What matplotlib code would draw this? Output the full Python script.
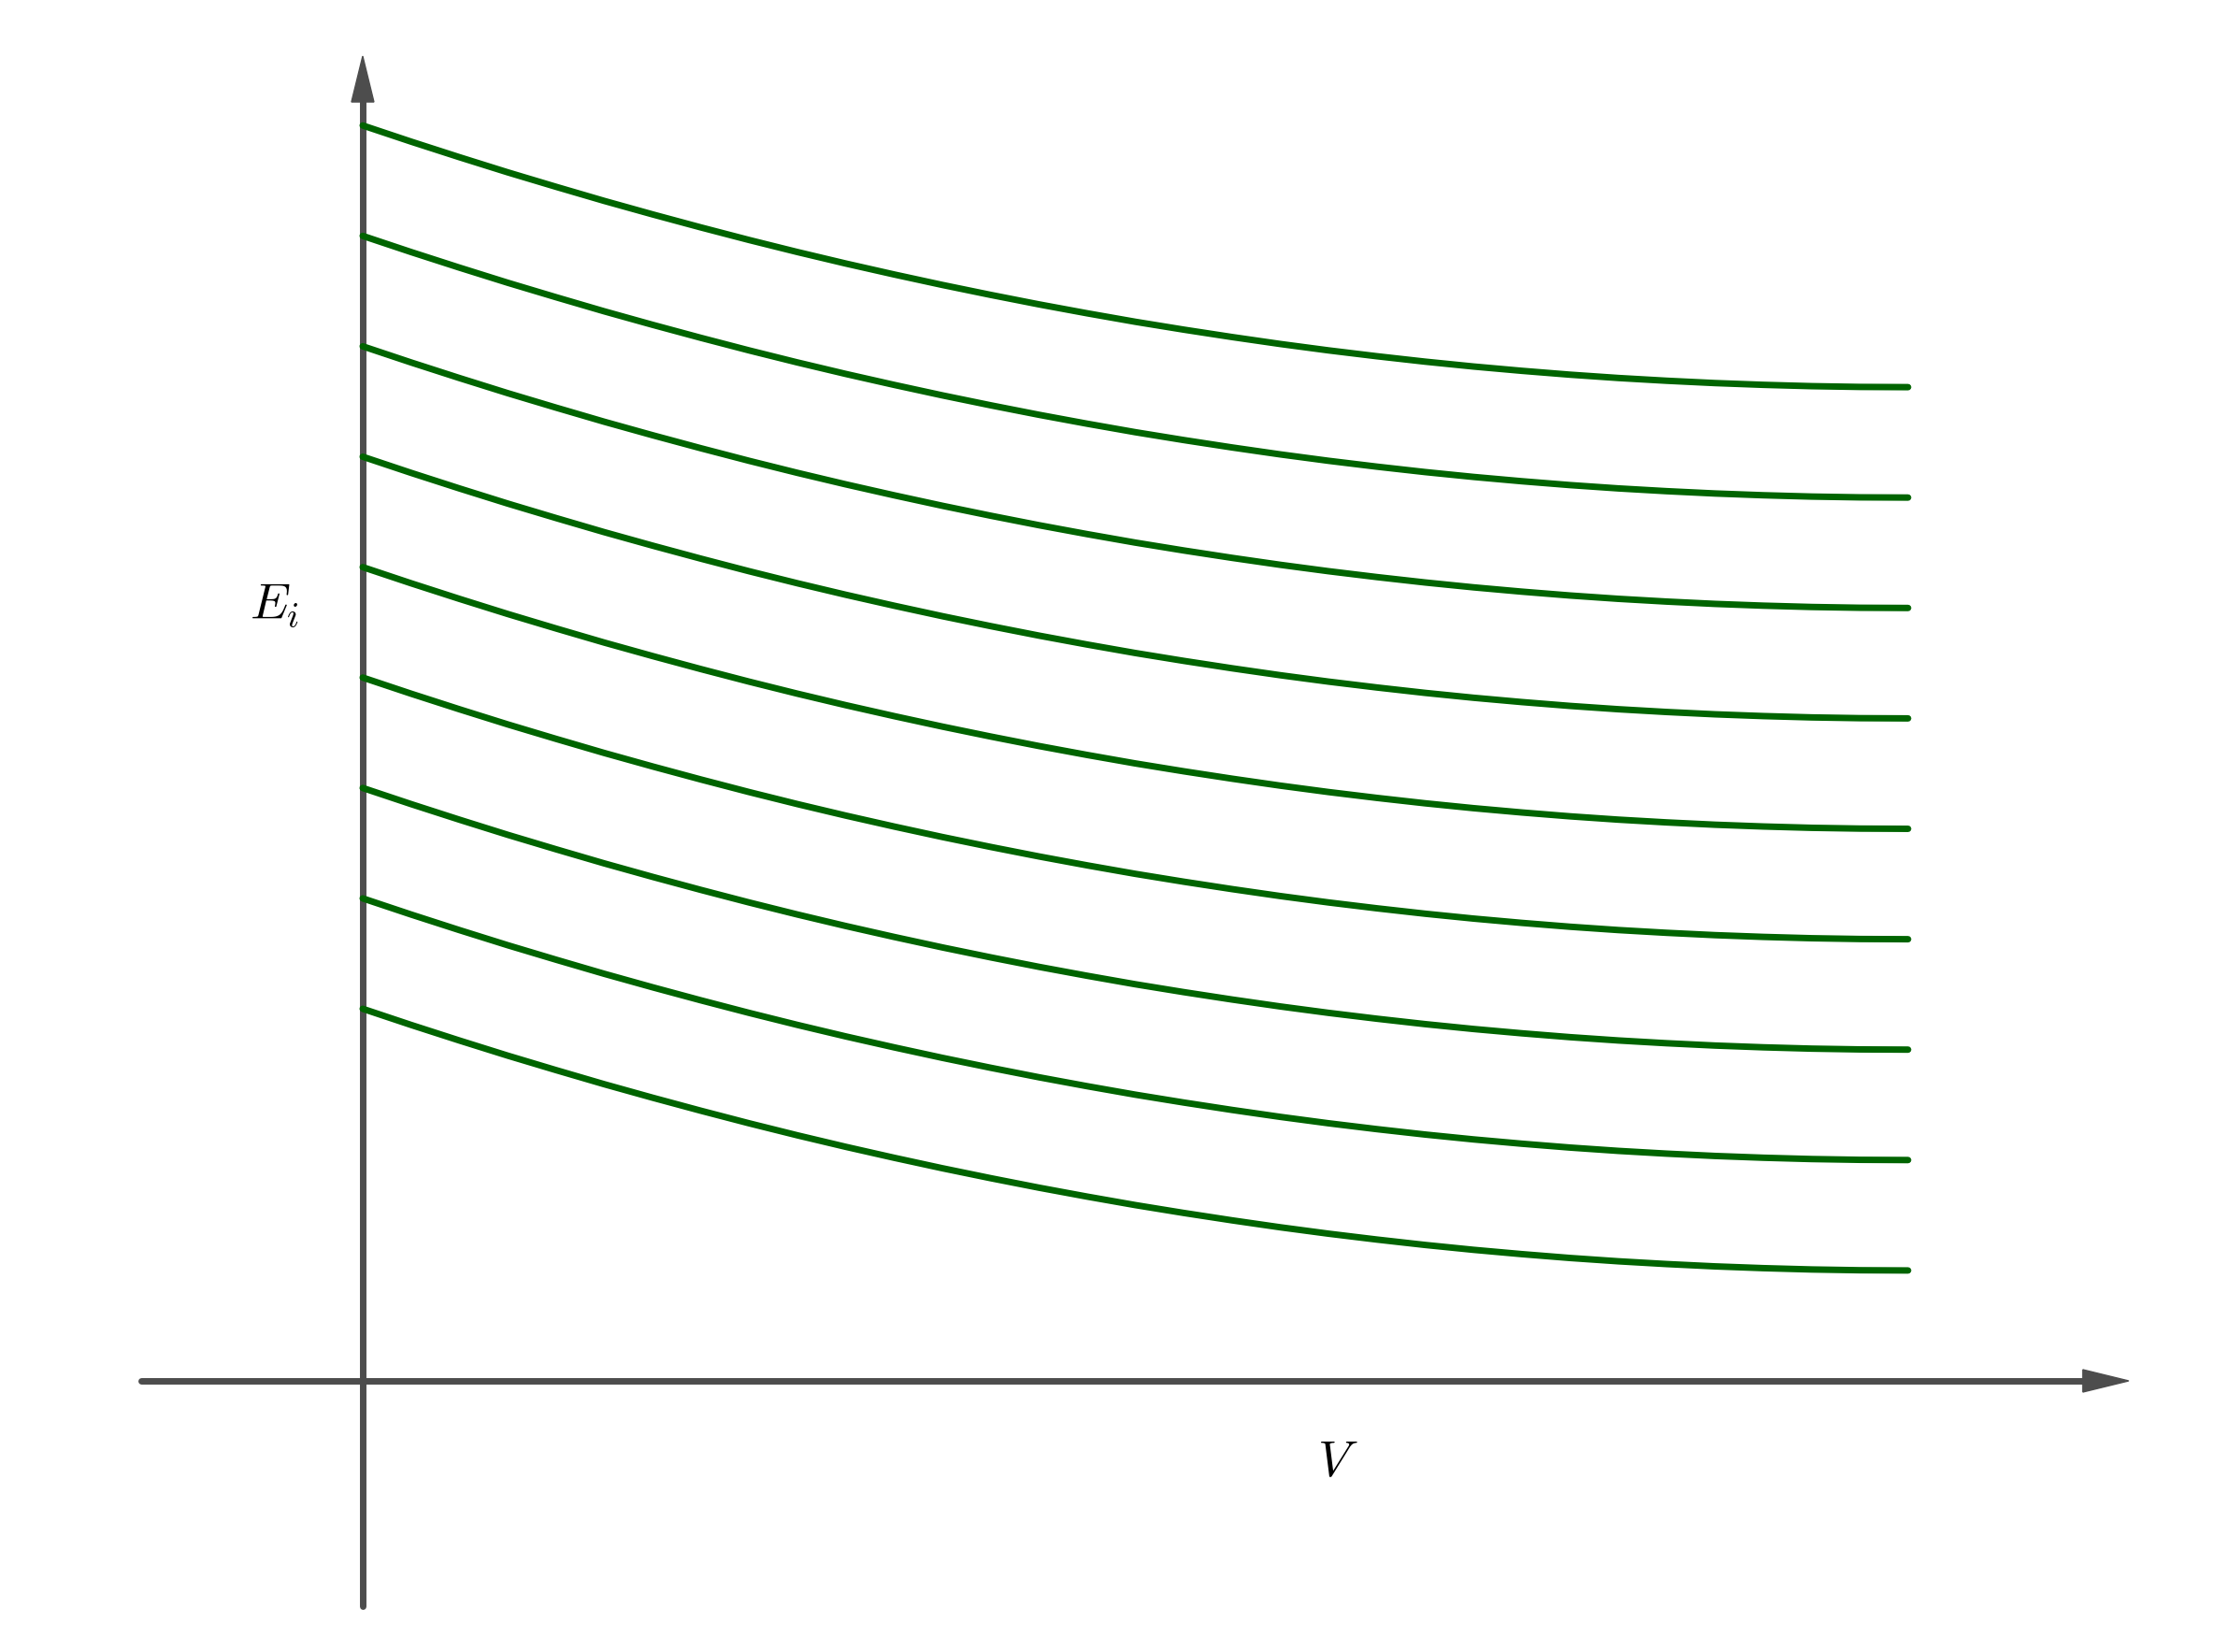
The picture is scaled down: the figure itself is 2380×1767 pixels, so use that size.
import matplotlib
matplotlib.use("Agg")
import matplotlib.pyplot as plt
from matplotlib.patches import Polygon

plt.rcParams['mathtext.fontset'] = 'cm'

# sample positions along V (curves run from V=0 to V=1)
v_samples = [i / 32 for i in range(33)]
# how far each level has dropped at those V positions
e_drop = [0.0, 0.146, 0.287, 0.424, 0.555, 0.683, 0.805, 0.923, 1.037,
          1.146, 1.250, 1.349, 1.444, 1.534, 1.620, 1.701, 1.778,
          1.849, 1.916, 1.979, 2.037, 2.090, 2.139, 2.183, 2.222,
          2.257, 2.287, 2.312, 2.333, 2.349, 2.361, 2.368, 2.37]
# energy level of each curve at V=0
e_start = [3.37, 4.37, 5.37, 6.37, 7.37, 8.37, 9.37, 10.37, 11.37]

axis_color = '#4d4d4d'
curve_color = '#006400'

fig = plt.figure(figsize=(23.8, 17.67), dpi=100)
ax = fig.add_axes([0, 0, 1, 1])
ax.set_xlim(-0.2347, 1.2051)
ax.set_ylim(-2.4556, 12.5064)
ax.axis('off')

# axes with arrow heads
ax.plot([-0.1434, 1.1143], [0, 0], color=axis_color, lw=5.0,
        solid_capstyle='round', zorder=2)
ax.plot([0, 0], [-2.041, 11.60], color=axis_color, lw=5.0,
        solid_capstyle='round', zorder=2)
ax.add_patch(Polygon([[1.1131, 0.1016], [1.1428, 0.0], [1.1131, -0.1016]],
                     closed=True, color=axis_color, zorder=2))
ax.add_patch(Polygon([[-0.00726, 11.583], [0.0, 11.998], [0.00726, 11.583]],
                     closed=True, color=axis_color, zorder=2))

for e0 in e_start:
    ys = [e0 - d for d in e_drop]
    ax.plot(v_samples, ys, color=curve_color, lw=5.0,
            solid_capstyle='round', solid_joinstyle='round', zorder=3)

ax.text(-0.0732, 6.90, r'$E_i$', fontsize=39, ha='left', va='baseline')
ax.text(0.6177, -0.864, r'$V$', fontsize=39, ha='left', va='baseline')

fig.savefig('out.png', dpi=100, facecolor='white')
